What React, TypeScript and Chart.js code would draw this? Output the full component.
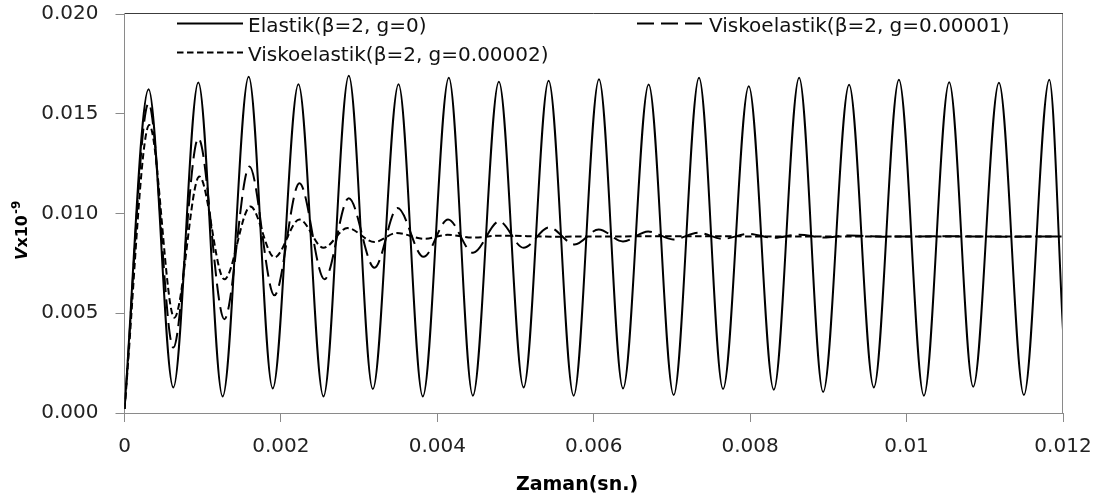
import React, { useEffect, useRef } from 'react';
import { Chart, registerables } from 'chart.js';

Chart.register(...registerables);

// ---- Axis ticks ----
const X_TICKS = [0, 0.002, 0.004, 0.006, 0.008, 0.01, 0.012];
const X_TICK_LABELS = ['0', '0.002', '0.004', '0.006', '0.008', '0.01', '0.012'];
const Y_TICKS = [0, 0.005, 0.01, 0.015, 0.02];
const Y_TICK_LABELS = ['0.000', '0.005', '0.010', '0.015', '0.020'];

const X_TITLE = 'Zaman(sn.)';
const SERIES_LABELS = [
  'Elastik(β=2, g=0)',
  'Viskoelastik(β=2, g=0.00001)',
  'Viskoelastik(β=2, g=0.00002)',
];

// ---- Elastik (β=2, g=0): extrema ----
const ELASTIC_T = [
  0, 0.000308, 0.000624, 0.000944, 0.001255, 0.001588, 0.001895, 0.002224, 0.002544,
  0.002868, 0.003175, 0.003504, 0.003814, 0.004147, 0.004454, 0.004787, 0.005103,
  0.005423, 0.005743, 0.006067, 0.006374, 0.006702, 0.007022, 0.007346, 0.007653,
  0.007982, 0.008302, 0.008626, 0.008933, 0.009265, 0.009581, 0.009902, 0.010221,
  0.010545, 0.010852, 0.011181, 0.0115, 0.011825, 0.012,
];
const ELASTIC_V = [
  0.0002, 0.01623, 0.00128, 0.01657, 0.00083, 0.01685, 0.00123, 0.01648, 0.00083,
  0.0169, 0.0012, 0.01648, 0.00083, 0.0168, 0.00087, 0.0166, 0.00128,
  0.01665, 0.00087, 0.01673, 0.00123, 0.01647, 0.0009, 0.0168, 0.0012,
  0.01638, 0.00117, 0.0168, 0.00105, 0.01645, 0.00128, 0.0167, 0.00087,
  0.01658, 0.00132, 0.01655, 0.0009, 0.0167, 0.00415,
];

// ---- Viskoelastik (β=2, g=0.00001) ----
const VISCO1_T = [
  0, 0.000308, 0.000624, 0.000944, 0.001277, 0.001597, 0.001917, 0.002237, 0.002557,
  0.002868, 0.003196, 0.003491, 0.003823, 0.004137, 0.004457, 0.00479, 0.005103,
  0.005429, 0.005756, 0.006063, 0.006374, 0.006696, 0.007016, 0.007336, 0.007653,
  0.007976, 0.008296, 0.008628, 0.008942, 0.009262, 0.0097, 0.0105, 0.0113, 0.012,
];
const VISCO1_V = [
  0.0002, 0.01552, 0.00328, 0.01377, 0.0047, 0.01235, 0.0059, 0.01152, 0.0067,
  0.01077, 0.00728, 0.01027, 0.00783, 0.0097, 0.00803, 0.0096, 0.00828,
  0.0093, 0.00845, 0.0092, 0.0086, 0.0091, 0.0087, 0.00903, 0.00873,
  0.00898, 0.00878, 0.00894, 0.0088, 0.0089, 0.00884, 0.00886, 0.00884, 0.00885,
];

// ---- Viskoelastik (β=2, g=0.00002) ----
const VISCO2_T = [
  0, 0.000317, 0.000637, 0.000957, 0.001277, 0.00161, 0.001917, 0.002237, 0.002544,
  0.002851, 0.003196, 0.003478, 0.003837, 0.00413, 0.004463, 0.004796, 0.0055,
  0.007, 0.0085, 0.01, 0.012,
];
const VISCO2_V = [
  0.0002, 0.01443, 0.00478, 0.01185, 0.0067, 0.01035, 0.0078, 0.0097, 0.00828,
  0.00927, 0.00857, 0.00902, 0.00873, 0.00893, 0.00879, 0.00889, 0.00884,
  0.00886, 0.00885, 0.00885, 0.00885,
];

const FONT = '"DejaVu Sans", sans-serif';

const zip = (t: number[], v: number[]) => t.map((x, i) => ({ x, y: v[i] }));

const decorPlugin = {
  id: 'decor',
  afterDraw(chart: any) {
    const { ctx, chartArea: a } = chart;
    ctx.save();
    // plot border (top dark, right gray)
    ctx.lineWidth = 1;
    ctx.strokeStyle = '#3c3c3c';
    ctx.beginPath();
    ctx.moveTo(a.left, Math.round(a.top) - 0.5);
    ctx.lineTo(a.right, Math.round(a.top) - 0.5);
    ctx.stroke();
    ctx.strokeStyle = '#8a8a8a';
    ctx.beginPath();
    ctx.moveTo(Math.round(a.right) - 0.5, a.top);
    ctx.lineTo(Math.round(a.right) - 0.5, a.bottom);
    ctx.stroke();

    // legend inside plot
    const pos = [
      { x: 177, y: 23.5, tx: 248, ty: 31.5 },
      { x: 637, y: 23.5, tx: 709, ty: 31.5 },
      { x: 177, y: 52.5, tx: 248, ty: 60.5 },
    ];
    chart.data.datasets.forEach((ds: any, i: number) => {
      const p = pos[i];
      ctx.strokeStyle = ds.borderColor;
      ctx.lineWidth = ds.borderWidth;
      ctx.setLineDash(ds.borderDash || []);
      ctx.beginPath();
      ctx.moveTo(p.x, p.y);
      ctx.lineTo(p.x + 66, p.y);
      ctx.stroke();
      ctx.setLineDash([]);
      ctx.fillStyle = '#111';
      ctx.font = `20px ${FONT}`;
      ctx.textAlign = 'left';
      ctx.textBaseline = 'alphabetic';
      ctx.fillText(ds.label, p.tx, p.ty);
    });

    // x-axis title
    ctx.fillStyle = '#000';
    ctx.font = `bold 19px ${FONT}`;
    ctx.textAlign = 'center';
    ctx.textBaseline = 'alphabetic';
    ctx.fillText(X_TITLE, 577, 490);

    // y-axis title: italic V, x10, superscript -9
    ctx.translate(26.5, 260);
    ctx.rotate(-Math.PI / 2);
    ctx.textAlign = 'left';
    ctx.font = `italic bold 16px ${FONT}`;
    ctx.fillText('V', 0, 0);
    let w = ctx.measureText('V').width;
    ctx.font = `bold 16px ${FONT}`;
    ctx.fillText('x10', w, 0);
    w += ctx.measureText('x10').width;
    ctx.font = `bold 12px ${FONT}`;
    ctx.fillText('-9', w + 1, -7);
    ctx.restore();
  },
};

export default function App() {
  const ref = useRef<HTMLCanvasElement | null>(null);

  useEffect(() => {
    if (!ref.current) return;
    Chart.defaults.font.family = FONT;
    const common = {
      borderColor: '#000',
      pointRadius: 0,
      fill: false,
      cubicInterpolationMode: 'monotone' as const,
    };
    const chart = new Chart(ref.current, {
      type: 'line',
      data: {
        datasets: [
          { ...common, label: SERIES_LABELS[0], data: zip(ELASTIC_T, ELASTIC_V), borderWidth: 2 },
          { ...common, label: SERIES_LABELS[1], data: zip(VISCO1_T, VISCO1_V), borderWidth: 2, borderDash: [17, 7] },
          { ...common, label: SERIES_LABELS[2], data: zip(VISCO2_T, VISCO2_V), borderWidth: 2, borderDash: [6.5, 3.5] },
        ],
      },
      options: {
        animation: false,
        responsive: false,
        devicePixelRatio: 1,
        layout: { padding: { left: 0, right: 39, top: 14, bottom: 0 } },
        plugins: { legend: { display: false }, tooltip: { enabled: false } },
        scales: {
          x: {
            type: 'linear',
            min: 0,
            max: 0.012,
            afterBuildTicks: (s: any) => {
              s.ticks = X_TICKS.map((v) => ({ value: v }));
            },
            afterFit: (s: any) => {
              s.height = 84;
              s.paddingLeft = 0;
              s.paddingRight = 0;
            },
            grid: { display: true, drawOnChartArea: false, drawTicks: true, tickLength: 9, color: '#8a8a8a', lineWidth: 1 },
            border: { display: true, color: '#8a8a8a', width: 1 },
            ticks: {
              padding: 13,
              color: '#222',
              font: { family: FONT, size: 20 },
              maxRotation: 0,
              autoSkip: false,
              callback: (_v: any, i: number) => X_TICK_LABELS[i],
            },
          },
          y: {
            type: 'linear',
            min: 0,
            max: 0.02,
            afterBuildTicks: (s: any) => {
              s.ticks = Y_TICKS.map((v) => ({ value: v }));
            },
            afterFit: (s: any) => {
              s.width = 124.5;
              s.paddingTop = 0;
              s.paddingBottom = 0;
            },
            grid: { display: true, drawOnChartArea: false, drawTicks: true, tickLength: 9, color: '#8a8a8a', lineWidth: 1 },
            border: { display: true, color: '#8a8a8a', width: 1 },
            ticks: {
              padding: 17,
              color: '#222',
              font: { family: FONT, size: 20 },
              autoSkip: false,
              callback: (_v: any, i: number) => Y_TICK_LABELS[i],
            },
          },
        },
      },
      plugins: [decorPlugin],
    } as any);
    return () => chart.destroy();
  }, []);

  return (
    <div style={{ position: 'absolute', left: 0, top: 0, width: 1102, height: 497, background: '#fff' }}>
      <canvas ref={ref} width={1102} height={497} style={{ display: 'block' }} />
    </div>
  );
}
